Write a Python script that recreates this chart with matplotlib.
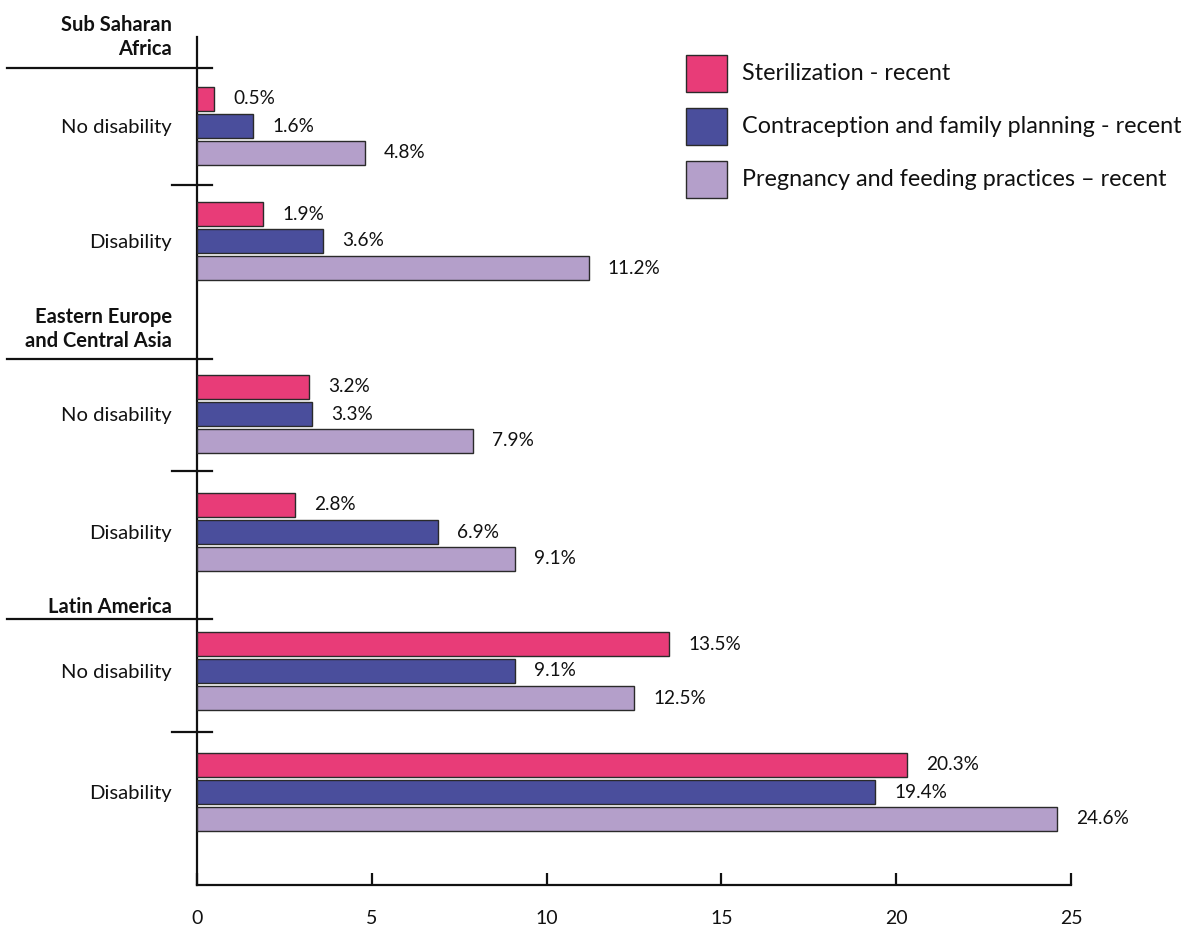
import matplotlib
matplotlib.use("Agg")
import matplotlib.pyplot as plt
from matplotlib.patches import Rectangle
from matplotlib.transforms import blended_transform_factory

plt.rcParams['font.family'] = ['Lato', 'DejaVu Sans']

# ---------------- data ----------------
regions = ["Sub Saharan\nAfrica", "Eastern Europe\nand Central Asia", "Latin America"]
groups = ["No disability", "Disability", "No disability", "Disability", "No disability", "Disability"]
series = ["Sterilization - recent",
          "Contraception and family planning - recent",
          "Pregnancy and feeding practices \u2013 recent"]
sterilization = [0.5, 1.9, 3.2, 2.8, 13.5, 20.3]
contraception = [1.6, 3.6, 3.3, 6.9, 9.1, 19.4]
pregnancy = [4.8, 11.2, 7.9, 9.1, 12.5, 24.6]
xticks = [0, 5, 10, 15, 20, 25]

# ---------------- layout (pixel rows of the canvas) ----------------
W, H = 1189, 925
group_centers = [126, 241, 414, 532, 671, 792]
bar_step = 27
bar_h = 24
region_sep = [68, 359, 619]
header_gap = [13, 12, 6]
group_sep = [185, 471, 732]
ax_left, ax_right, ax_top, ax_bottom = 197, 1071, 37, 885
leg_x, leg_y0, leg_step, leg_w, leg_h = 686, 55, 53, 41, 37

colors = ["#E83C78", "#4A4E9C", "#B49FCA"]
edge = "#2a2a2a"
ink = '#111111'

fig = plt.figure(figsize=(W / 100, H / 100), dpi=100)
ax = fig.add_axes([ax_left / W, 1 - ax_bottom / H, (ax_right - ax_left) / W, (ax_bottom - ax_top) / H])
ax.set_xlim(0, 25)
ax.set_ylim(ax_bottom, ax_top)

vals = [sterilization, contraception, pregnancy]
for si, (v, c) in enumerate(zip(vals, colors)):
    ys = [g + (si - 1) * bar_step for g in group_centers]
    ax.barh(ys, v, height=bar_h, color=c, edgecolor=edge, linewidth=1.0, zorder=3)
    for y, val in zip(ys, v):
        ax.text(val + 0.55, y, f"{val:.1f}%", va='center', ha='left', fontsize=13.7, color=ink)

# axes styling
for s in ['top', 'right']:
    ax.spines[s].set_visible(False)
for s in ['left', 'bottom']:
    ax.spines[s].set_linewidth(1.6)
    ax.spines[s].set_color(ink)
ax.set_xticks(xticks)
ax.set_xticklabels([str(t) for t in xticks], fontsize=14)
ax.tick_params(axis='x', direction='in', length=9, width=1.6, pad=18, colors=ink)
ax.set_yticks(group_centers)
ax.set_yticklabels(groups, fontsize=14.6, color=ink)
ax.tick_params(axis='y', length=0, pad=18)

# separators
tr = blended_transform_factory(fig.transFigure, ax.transData)
for y in region_sep:
    ax.plot([7 / W, 212 / W], [y, y], transform=tr, color=ink, lw=1.6, clip_on=False)
for y in group_sep:
    ax.plot([172 / W, 212 / W], [y, y], transform=tr, color=ink, lw=1.6, clip_on=False)

# region headers
for r, y, g in zip(regions, region_sep, header_gap):
    ax.text(172 / W, y - g, r, transform=tr, ha='right', va='baseline', fontsize=14.5,
            fontweight='bold', linespacing=1.28, color=ink)

# legend (drawn manually in figure pixels)
for i, (lab, c) in enumerate(zip(series, colors)):
    top = leg_y0 + i * leg_step
    fig.patches.append(Rectangle((leg_x / W, 1 - (top + leg_h) / H), leg_w / W, leg_h / H,
                                 transform=fig.transFigure, facecolor=c, edgecolor=edge,
                                 linewidth=1.0))
    fig.text((leg_x + leg_w + 15) / W, 1 - (top + leg_h / 2) / H, lab, ha='left', va='center',
             fontsize=16.8, color=ink)

fig.savefig("out.png", dpi=100)
